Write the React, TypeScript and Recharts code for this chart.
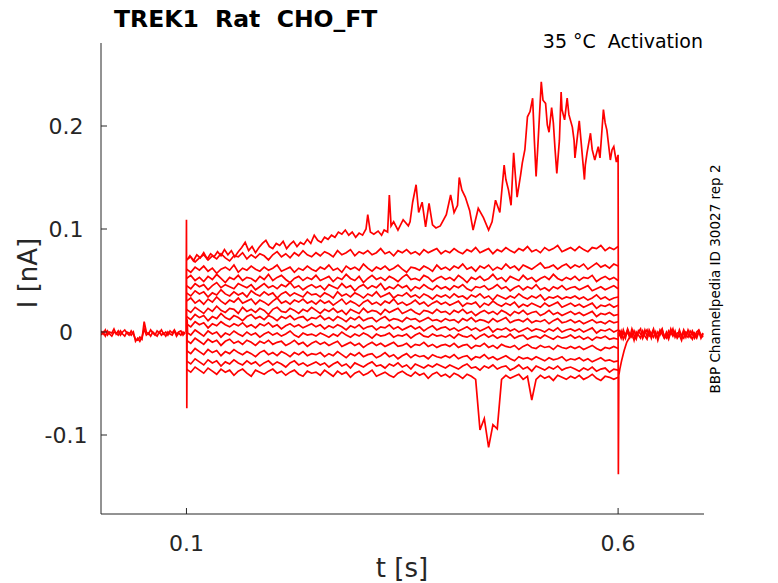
import { LineChart, Line, XAxis, YAxis } from 'recharts'

// times in ms, currents in pA (converted to s / nA for the axes)
const tStep = [
  100, 105, 110, 115, 120, 125, 130, 135, 140, 145, 150, 155, 160, 165, 170, 175, 180, 185, 190, 195,
  200, 205, 210, 215, 220, 225, 230, 235, 240, 245, 250, 255, 260, 265, 270, 275, 280, 285, 290, 295,
  300, 305, 310, 315, 320, 325, 330, 335, 340, 345, 350, 355, 360, 365, 370, 375, 380, 385, 390, 395,
  400, 405, 410, 415, 420, 425, 430, 435, 440, 445, 450, 455, 460, 465, 470, 475, 480, 485, 490, 495,
  500, 505, 510, 515, 520, 525, 530, 535, 540, 545, 550, 555, 560, 565, 570, 575, 580, 585, 590, 595,
  600,
]

const stepA = [
  70, 73, 68, 72, 75, 70, 74, 71, 76, 72, 69, 74, 73, 77, 71, 75, 72, 76, 74, 70, 75, 78, 73, 76, 72, 77, 74, 79, 75, 73,
  77, 74, 78, 76, 73, 79, 75, 77, 80, 74, 78, 76, 79, 75, 77, 81, 76, 78, 74, 79, 77, 80, 76, 78, 75, 80, 77, 79, 81, 76,
  79, 77, 81, 78, 76, 80, 78, 82, 77, 79, 81, 76, 80, 78, 82, 79, 77, 81, 79, 83, 78, 80, 77, 82, 79, 81, 84, 78, 80, 82,
  79, 83, 80, 78, 82, 81, 84, 79, 82, 80, 83,
]
const stepB = [
  61, 58, 63, 60, 64, 59, 62, 57, 61, 63, 60, 65, 58, 62, 60, 64, 61, 59, 63, 60, 62, 65, 59, 61, 63, 58, 62, 60, 64, 61,
  59, 63, 61, 65, 60, 62, 58, 64, 61, 63, 60, 66, 62, 59, 63, 61, 64, 60, 62, 65, 61, 58, 63, 62, 60, 64, 62, 59, 65, 61,
  63, 60, 64, 62, 66, 61, 63, 59, 64, 62, 65, 60, 63, 61, 66, 62, 64, 60, 65, 63, 61, 64, 67, 62, 63, 65, 61, 64, 66, 62,
  65, 63, 66, 61, 64, 67, 63, 65, 62, 66, 64,
]
const stepC = [
  52, 55, 50, 53, 49, 54, 51, 56, 52, 48, 53, 51, 55, 50, 53, 52, 49, 54, 51, 56, 50, 53, 55, 51, 48, 52, 54, 50, 53, 51,
  55, 50, 52, 54, 49, 53, 51, 56, 52, 50, 54, 48, 52, 55, 51, 53, 50, 54, 52, 49, 53, 56, 51, 52, 50, 55, 53, 49, 52, 54,
  51, 53, 50, 55, 52, 48, 53, 51, 54, 50, 52, 56, 51, 53, 49, 54, 52, 50, 55, 51, 53, 49, 52, 54, 51, 56, 52, 50, 53, 51,
  54, 50, 53, 52, 55, 49, 52, 54, 51, 53, 50,
]
const stepD = [
  45, 42, 47, 44, 46, 41, 45, 48, 43, 46, 44, 42, 47, 45, 43, 46, 41, 44, 47, 43, 45, 42, 46, 44, 48, 43, 45, 41, 44, 46,
  43, 45, 41, 46, 44, 42, 47, 43, 45, 40, 44, 46, 42, 45, 43, 47, 41, 44, 42, 46, 43, 45, 40, 44, 42, 46, 43, 41, 45, 42,
  44, 41, 45, 43, 46, 42, 40, 44, 43, 45, 41, 43, 46, 42, 44, 40, 43, 45, 41, 44, 42, 46, 41, 43, 40, 44, 42, 45, 41, 43,
  44, 41, 43, 45, 40, 42, 44, 41, 43, 45, 42,
]
const stepE = [
  38, 35, 40, 37, 39, 34, 38, 36, 41, 37, 35, 39, 36, 38, 34, 40, 37, 35, 39, 36, 38, 33, 37, 39, 35, 38, 36, 34, 39, 36,
  37, 34, 38, 36, 33, 39, 35, 37, 34, 38, 36, 33, 37, 35, 39, 34, 36, 38, 33, 36, 35, 38, 34, 36, 33, 37, 35, 32, 36, 34,
  36, 33, 37, 34, 35, 32, 36, 34, 37, 33, 35, 31, 36, 34, 32, 35, 33, 37, 34, 32, 35, 33, 36, 31, 34, 33, 35, 32, 34, 33,
  35, 32, 34, 31, 33, 36, 32, 34, 31, 33, 34,
]
const stepF = [
  30, 33, 28, 31, 27, 32, 29, 34, 30, 27, 31, 29, 33, 28, 30, 32, 27, 31, 29, 26, 30, 33, 28, 30, 27, 31, 29, 32, 28, 30,
  27, 31, 28, 30, 26, 29, 32, 27, 30, 28, 25, 29, 31, 27, 29, 26, 30, 28, 32, 27, 29, 26, 28, 31, 27, 29, 25, 28, 30, 27,
  29, 26, 28, 30, 25, 28, 27, 29, 24, 28, 26, 30, 27, 25, 28, 26, 29, 24, 27, 25, 28, 26, 24, 28, 25, 27, 29, 24, 26, 28,
  25, 27, 24, 26, 28, 23, 26, 25, 27, 24, 26,
]
const stepG = [
  22, 19, 24, 21, 18, 23, 20, 25, 21, 19, 23, 22, 18, 24, 20, 22, 19, 23, 21, 17, 22, 24, 20, 19, 23, 21, 18, 22, 20, 24,
  21, 18, 22, 20, 23, 19, 21, 17, 22, 20, 18, 23, 19, 21, 20, 17, 22, 19, 21, 23, 18, 20, 22, 19, 17, 21, 20, 18, 22, 19,
  20, 17, 21, 19, 22, 18, 20, 16, 19, 21, 18, 20, 17, 21, 19, 16, 20, 18, 21, 17, 19, 20, 16, 18, 21, 17, 19, 16, 18, 20,
  17, 19, 16, 18, 20, 15, 18, 17, 19, 16, 17,
]
const stepH = [
  15, 12, 17, 14, 16, 11, 15, 13, 18, 14, 12, 16, 14, 11, 15, 17, 13, 15, 12, 16, 14, 11, 15, 13, 16, 12, 14, 15, 11, 14,
  13, 16, 12, 14, 11, 15, 13, 10, 14, 12, 15, 11, 13, 14, 10, 13, 15, 11, 13, 12, 10, 14, 12, 13, 10, 12, 14, 11, 12, 10,
  13, 11, 12, 9, 13, 11, 14, 10, 12, 11, 9, 13, 10, 12, 14, 9, 11, 12, 10, 13, 9, 11, 10, 12, 8, 11, 13, 9, 10, 12,
  9, 11, 8, 10, 12, 9, 10, 8, 11, 9, 10,
]
const stepI = [
  8, 5, 10, 7, 9, 4, 8, 6, 10, 7, 5, 8, 6, 9, 5, 7, 4, 8, 6, 9, 5, 7, 3, 6, 8, 5, 7, 4, 6, 8,
  5, 7, 3, 6, 4, 7, 5, 2, 6, 4, 7, 3, 5, 6, 2, 5, 4, 7, 3, 5, 2, 4, 6, 3, 5, 1, 4, 6, 2, 4,
  5, 2, 4, 1, 3, 5, 2, 4, 1, 3, 5, 0, 3, 2, 4, 1, 3, 0, 2, 4, 1, 3, 2, 0, 3, 1, 4, 0, 2, 3,
  1, 3, 0, 2, 4, -1, 2, 1, 3, 0, 2,
]
const stepJ = [
  0, -3, 2, -1, -4, 1, -2, 0, -5, -1, -3, 1, -2, -4, 0, -3, -1, -5, -2, 0, -3, -1, -4, -2, 1, -3, -5, -1, -3, -2,
  -4, -1, -3, -5, -2, -4, 0, -3, -5, -2, -4, -1, -3, -6, -2, -4, -3, -1, -5, -3, -4, -2, -6, -3, -1, -4, -5, -2, -4, -3,
  -5, -3, -6, -2, -4, -5, -3, -7, -4, -2, -5, -3, -6, -4, -5, -2, -6, -4, -3, -7, -5, -4, -6, -3, -5, -7, -4, -6, -5, -3,
  -6, -4, -7, -5, -8, -5, -6, -4, -7, -6, -7,
]
const stepK = [
  -8, -11, -6, -9, -12, -7, -10, -8, -13, -9, -7, -11, -9, -12, -8, -10, -13, -9, -11, -8, -12, -10, -9, -13, -11, -8, -12, -10, -14, -11,
  -9, -12, -10, -13, -11, -9, -14, -12, -10, -13, -11, -15, -12, -10, -13, -11, -14, -12, -10, -14, -13, -11, -15, -12, -13, -10, -14, -12, -15, -13,
  -12, -14, -11, -15, -13, -12, -16, -13, -14, -11, -15, -13, -16, -12, -14, -15, -13, -17, -14, -12, -15, -16, -13, -15, -14, -17, -13, -15, -16, -14,
  -16, -14, -17, -15, -13, -16, -18, -15, -16, -14, -16,
]
const stepL = [
  -18, -21, -16, -19, -22, -17, -20, -18, -23, -19, -21, -17, -20, -22, -19, -21, -24, -20, -18, -22, -20, -23, -19, -21, -24, -20, -22, -19, -23, -21,
  -22, -20, -24, -21, -23, -19, -22, -25, -21, -23, -20, -24, -22, -21, -25, -23, -20, -24, -22, -26, -23, -21, -25, -22, -24, -23, -26, -22, -24, -25,
  -23, -25, -22, -26, -24, -23, -27, -24, -25, -22, -26, -24, -27, -25, -23, -26, -28, -24, -26, -25, -27, -24, -26, -28, -25, -27, -26, -24, -28, -26,
  -27, -25, -28, -26, -29, -27, -25, -28, -27, -29, -28,
]
const stepM = [
  -28, -31, -26, -29, -32, -27, -30, -28, -33, -29, -31, -27, -30, -32, -28, -31, -29, -33, -30, -28, -32, -29, -31, -34, -30, -28, -32, -30, -33, -31,
  -29, -32, -30, -34, -31, -29, -33, -31, -35, -30, -32, -34, -31, -29, -33, -32, -35, -31, -33, -30, -34, -32, -36, -31, -33, -35, -32, -34, -31, -33,
  -35, -32, -34, -36, -33, -31, -35, -34, -37, -33, -35, -32, -36, -34, -33, -37, -35, -32, -36, -34, -38, -33, -35, -37, -34, -36, -33, -37, -35, -34,
  -36, -38, -35, -37, -34, -38, -36, -35, -39, -36, -37,
]
const stepN = [
  -36, -39, -34, -37, -40, -35, -38, -41, -36, -39, -37, -42, -38, -36, -40, -43, -37, -39, -41, -38, -36, -40, -38, -42, -39, -37, -41, -43, -38, -40,
  -39, -42, -37, -40, -43, -38, -41, -39, -44, -40, -38, -42, -40, -37, -43, -41, -39, -42, -44, -40, -38, -41, -43, -39, -42, -40, -45, -41, -39, -43,
  -41, -44, -40, -42, -45, -41, -43, -46, -95, -84, -112, -90, -94, -46, -42, -45, -43, -41, -46, -43, -66, -46, -42, -45, -43, -47, -42, -44, -46, -43,
  -45, -42, -46, -44, -41, -45, -47, -43, -44, -46, -44,
]
const stepTraces = [stepA, stepB, stepC, stepD, stepE, stepF, stepG, stepH, stepI, stepJ, stepK, stepL, stepM, stepN]

// the sweep whose current keeps rising
const tRise = [
  100.5, 104, 108, 112, 116, 120, 124, 128, 132, 136, 140, 144, 148, 152, 156, 160, 164, 168, 172, 176,
  180, 184, 188, 192, 196, 200, 204, 208, 212, 216, 220, 224, 228, 232, 236, 240, 244, 248, 252, 256,
  260, 264, 268, 272, 276, 280, 284, 288, 292, 296, 300, 304, 308, 310, 313, 317, 322, 326, 329, 333,
  335, 337, 340, 345, 351, 357, 359, 362, 366, 369, 373, 377, 381, 385, 389, 394, 401, 406, 410, 414,
  416, 419, 423, 428, 432, 438, 444, 450, 454, 458, 463, 468, 470, 473, 476, 479, 481, 483, 487, 489,
  492, 495, 498, 501, 503, 505, 507, 511, 513, 516, 518, 520, 523, 525, 527, 529, 532, 534, 535, 538,
  541, 543, 547, 549, 550, 553, 555, 557, 561, 562, 564, 568, 570, 573, 577, 579, 583, 585, 587, 591,
  593, 595, 598, 600, 600.3,
]
const iRise = [
  70, 74, 69, 75, 72, 77, 71, 76, 73, 78, 74, 80, 75, 79, 73, 78, 82, 87, 79, 83,
  77, 82, 86, 89, 83, 81, 86, 84, 88, 81, 85, 88, 83, 87, 85, 90, 86, 94, 89, 87,
  92, 90, 94, 92, 97, 95, 99, 94, 97, 92, 96, 94, 100, 114, 97, 95, 98, 94, 99, 97,
  133, 103, 107, 99, 109, 103, 107, 126, 143, 116, 126, 102, 125, 104, 101, 103, 114, 133, 116, 123,
  150, 138, 131, 118, 99, 120, 111, 99, 107, 128, 116, 162, 148, 138, 123, 174, 152, 131, 152, 164,
  177, 209, 214, 227, 186, 151, 180, 243, 225, 222, 201, 194, 218, 203, 177, 154, 186, 233, 216, 206,
  227, 211, 199, 186, 169, 191, 205, 186, 148, 162, 174, 193, 177, 167, 180, 169, 216, 203, 196, 167,
  177, 180, 165, 172, 0,
]

// holding baseline before and after the step
const tPre = [
  1, 3.5, 6, 8.5, 11, 13.5, 16, 18.5, 21, 23.5, 26, 28.5, 31, 33.5, 36, 38.5, 41, 43.5, 46, 48.5,
  51, 53.5, 56, 58.5, 61, 63.5, 66, 68.5, 71, 73.5, 76, 78.5, 81, 83.5, 86, 88.5, 91, 93.5, 96, 98.5,
]
const pre1 = [
  1, -2, 2, -3, 0, -1, 3, -2, 1, -3, 0, 2, -1, -3, 1, -2, -7, -8, -5, -7,
  10, 0, -2, 2, -1, -3, 1, -1, 2, -2, 0, -3, 1, -1, 2, -2, 0, 1, -3, 0,
]
const pre2 = [
  -3, 0, -4, 1, -2, -4, 0, -1, -3, 1, -2, -4, 0, -1, -3, 0, -9, -6, -9, -5,
  3, -3, -1, -4, 0, -2, -4, 0, -3, -1, -4, 0, -2, -3, 1, -4, -1, -3, 0, -2,
]
const tPost = [
  601, 603.5, 606, 608.5, 611, 613.5, 616, 618.5, 621, 623.5, 626, 628.5, 631, 633.5, 636, 638.5, 641, 643.5, 646, 648.5,
  651, 653.5, 656, 658.5, 661, 663.5, 666, 668.5, 671, 673.5, 676, 678.5, 681, 683.5, 686, 688.5, 691, 693.5, 696, 698.5,
]
const post1 = [
  -1, -6, 2, -4, 0, -5, 3, -3, -7, 1, -2, -5, 2, -4, 0, -6, 1, -3, -5, 2,
  -2, -6, 0, -4, 3, -3, -1, -5, 2, -4, -6, 0, -2, -5, 1, -3, -6, 0, -4, -1,
]
const post2 = [
  2, -3, -1, -6, 3, -2, -5, 1, -4, 0, 3, -6, -1, 2, -4, -2, 3, -5, 0, -3,
  2, -4, -6, 1, -2, 3, -5, -1, 0, -4, 2, -3, -5, 1, -2, -6, 0, 2, -3, -5,
]
const post3 = [
  -4, 1, -7, -2, 2, -5, -1, -8, 0, -3, -6, 1, -4, -7, 2, -2, -5, 0, -8, -1,
  3, -5, -2, -7, 0, -4, 1, -6, -3, -8, 0, -5, 2, -3, -7, -1, -4, 1, -6, -2,
]

// capacitive transients at step on / off
const tOn = [99.5, 100, 100.4, 100.8, 101.3]
const iOn = [0, 109, -74, 12, 0]
const tOff = [600, 600.3, 600.8, 602, 604, 607, 610, 614]
const iOff = [0, -138, -42, -36, -28, -18, -10, -4]

const RED = '#ff0000'
const INK = '#262626'
const FONT = 'DejaVu Sans'

const pairs = (ts: number[], vs: number[]) => ts.map((t, k) => ({ t: t / 1000, i: vs[k] / 1000 }))

const series = [
  ...stepTraces.map((v) => pairs(tStep, v)),
  pairs(tRise, iRise),
  pairs(tPre, pre1),
  pairs(tPre, pre2),
  pairs(tPost, post1),
  pairs(tPost, post2),
  pairs(tPost, post3),
  pairs(tOn, iOn),
  pairs(tOff, iOff),
]

function XTick({ x, y, payload }: any) {
  return (
    <g>
      <line x1={x} x2={x} y1={y} y2={y - 6} stroke={INK} />
      <text x={x} y={y + 37} textAnchor="middle" fontSize={22} fontFamily={FONT} fill={INK}>
        {payload.value}
      </text>
    </g>
  )
}

function YTick({ x, y, payload }: any) {
  return (
    <g>
      <line x1={x} x2={x + 6} y1={y} y2={y} stroke={INK} />
      <text x={x - 35} y={y + 8} textAnchor="middle" fontSize={22} fontFamily={FONT} fill={INK}>
        {payload.value}
      </text>
    </g>
  )
}

export default function App() {
  return (
    <div style={{ position: 'absolute', left: 0, top: 0, width: 778, height: 583, background: '#fff' }}>
      <LineChart width={778} height={583} margin={{ top: 43, right: 74, bottom: 39, left: 41 }}>
        <XAxis
          type="number"
          dataKey="t"
          domain={[0.001, 0.6995]}
          allowDataOverflow
          ticks={[0.1, 0.6]}
          height={30}
          tickSize={0}
          tickMargin={0}
          tick={<XTick />}
          axisLine={{ stroke: INK }}
        />
        <YAxis
          type="number"
          dataKey="i"
          domain={[-0.1767, 0.2806]}
          allowDataOverflow
          ticks={[-0.1, 0, 0.1, 0.2]}
          width={60}
          tickSize={0}
          tickMargin={0}
          tick={<YTick />}
          axisLine={{ stroke: INK }}
        />
        {series.map((d, k) => (
          <Line
            key={k}
            data={d}
            dataKey="i"
            type="linear"
            stroke={RED}
            strokeWidth={1.7}
            dot={false}
            isAnimationActive={false}
          />
        ))}
      </LineChart>
      <svg width={778} height={583} style={{ position: 'absolute', left: 0, top: 0, pointerEvents: 'none' }}>
        <text x={114} y={27} fontSize={23.5} fontWeight="bold" fontFamily={FONT} fill="#000" style={{ whiteSpace: 'pre' }}>
          TREK1  Rat  CHO_FT
        </text>
        <text x={703} y={48} textAnchor="end" fontSize={19} fontFamily={FONT} fill="#000" style={{ whiteSpace: 'pre' }}>
          35 °C  Activation
        </text>
        <text x={37} y={273} transform="rotate(-90 37 273)" textAnchor="middle" fontSize={26} fontFamily={FONT} fill={INK}>
          I [nA]
        </text>
        <text x={402} y={577} textAnchor="middle" fontSize={26} fontFamily={FONT} fill={INK}>
          t [s]
        </text>
        <text x={720} y={279} transform="rotate(-90 720 279)" textAnchor="middle" fontSize={13.5} fontFamily={FONT} fill="#000">
          BBP Channelpedia ID 30027 rep 2
        </text>
      </svg>
    </div>
  )
}
